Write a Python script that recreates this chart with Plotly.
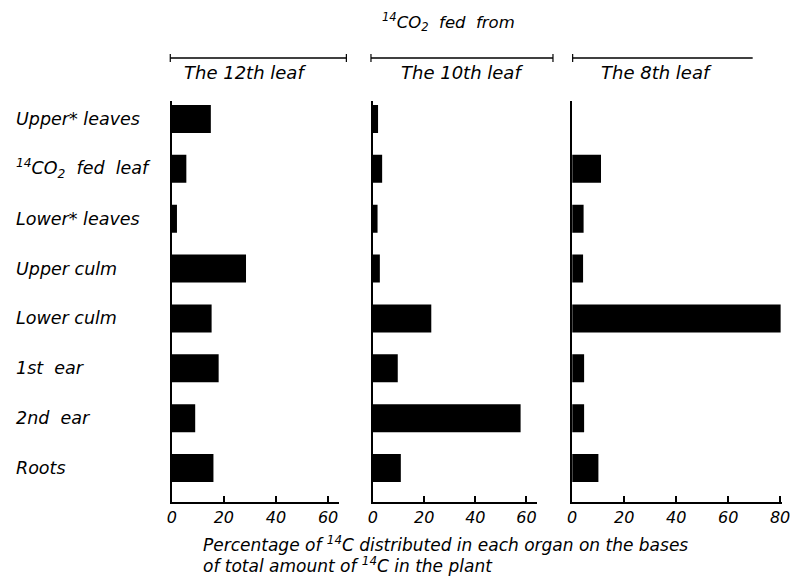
import plotly.graph_objects as go

W, H = 802, 578

categories = ["Upper* leaves", "<sup>14</sup>CO<sub>2</sub>  fed  leaf", "Lower* leaves",
              "Upper culm", "Lower culm", "1st  ear", "2nd  ear", "Roots"]
leaf12 = [15.0, 5.6, 2.0, 28.5, 15.3, 18.0, 9.0, 16.0]
leaf10 = [2.0, 3.6, 1.8, 2.7, 22.8, 9.7, 57.7, 10.9]
leaf8 = [0.0, 11.1, 4.4, 4.2, 80.2, 4.6, 4.6, 10.1]
panel_titles = ["The 12th leaf", "The 10th leaf", "The 8th leaf"]
ticks_12 = [0, 20, 40, 60]
ticks_10 = [0, 20, 40, 60]
ticks_8 = [0, 20, 40, 60, 80]
main_title = "<sup>14</sup>CO<sub>2</sub>  fed  from"
xlabel1 = "Percentage of <sup>14</sup>C distributed in each organ on the bases"
xlabel2 = "of total amount of <sup>14</sup>C in the plant"

FONT = "DejaVu Sans"


def px(x):
    return x / W


def py(y):
    return 1 - y / H


fig = go.Figure()
series = [leaf12, leaf10, leaf8]
for i, vals in enumerate(series):
    fig.add_trace(go.Bar(
        x=vals, y=categories, orientation="h", width=0.56,
        marker=dict(color="black", line=dict(width=0)),
        xaxis="x" if i == 0 else f"x{i+1}",
        yaxis="y" if i == 0 else f"y{i+1}",
        showlegend=False, hoverinfo="x+y",
    ))

domains = [(169.5, 339), (374, 541), (576.5, 790)]
ranges = [[0, 64], [0, 64.2], [0, 80.8]]
tickv = [ticks_12, ticks_10, ticks_8]
ydom = [py(502), py(101)]

layout = dict(
    width=W, height=H, autosize=False,
    margin=dict(l=0, r=0, t=0, b=0),
    paper_bgcolor="white", plot_bgcolor="white",
    font=dict(family=FONT, color="black", size=15),
    showlegend=False,
)
for i in range(3):
    sx = "" if i == 0 else str(i + 1)
    layout[f"xaxis{sx}"] = dict(
        domain=[px(domains[i][0]), px(domains[i][1])], range=ranges[i],
        anchor=f"y{sx}", showline=True, linecolor="black", linewidth=1.5,
        ticks="inside", ticklen=6, tickwidth=1.5, tickcolor="black",
        tickvals=tickv[i], showgrid=False, zeroline=False,
        tickfont=dict(family=FONT, size=16, style="italic", color="black"),
        fixedrange=True,
    )
    layout[f"yaxis{sx}"] = dict(
        domain=ydom, anchor=f"x{sx}", type="category",
        categoryorder="array", categoryarray=categories,
        range=[7.68, -0.36], showline=True, linecolor="black", linewidth=1.5,
        showticklabels=False, ticks="", showgrid=False, zeroline=False,
        fixedrange=True,
    )
fig.update_layout(**layout)

ann = []
for c in categories:
    ann.append(dict(x=px(9), xref="paper", y=c, yref="y", text=c,
                    xanchor="left", yanchor="middle", showarrow=False,
                    font=dict(family=FONT, size=17.5, style="italic")))

# panel headers
bracket = [(168, 347, True), (372, 557, True), (577, 760, False)]
text_x = [180, 400, 604]
shapes = []
for i, (x0, x1, right) in enumerate(bracket):
    shapes.append(dict(type="line", xref="paper", yref="paper",
                       x0=px(x0), x1=px(x1), y0=py(58), y1=py(58),
                       line=dict(color="black", width=1.5)))
    shapes.append(dict(type="line", xref="paper", yref="paper",
                       x0=px(x0), x1=px(x0), y0=py(54), y1=py(62),
                       line=dict(color="black", width=1.2)))
    if right:
        shapes.append(dict(type="line", xref="paper", yref="paper",
                           x0=px(x1), x1=px(x1), y0=py(54), y1=py(62),
                           line=dict(color="black", width=1.2)))
    ann.append(dict(x=px(text_x[i]), xref="paper", y=py(72), yref="paper",
                    text=panel_titles[i], xanchor="left", yanchor="middle",
                    showarrow=False, font=dict(family=FONT, size=18, style="italic")))

ann.append(dict(x=px(381), xref="paper", y=py(22), yref="paper", text=main_title,
                xanchor="left", yanchor="middle", showarrow=False,
                font=dict(family=FONT, size=16.5, style="italic")))
ann.append(dict(x=px(199), xref="paper", y=py(544), yref="paper", text=xlabel1,
                xanchor="left", yanchor="middle", showarrow=False,
                font=dict(family=FONT, size=17, style="italic")))
ann.append(dict(x=px(199), xref="paper", y=py(565), yref="paper", text=xlabel2,
                xanchor="left", yanchor="middle", showarrow=False,
                font=dict(family=FONT, size=17, style="italic")))

fig.update_layout(annotations=ann, shapes=shapes)
fig.write_html("out.html")
